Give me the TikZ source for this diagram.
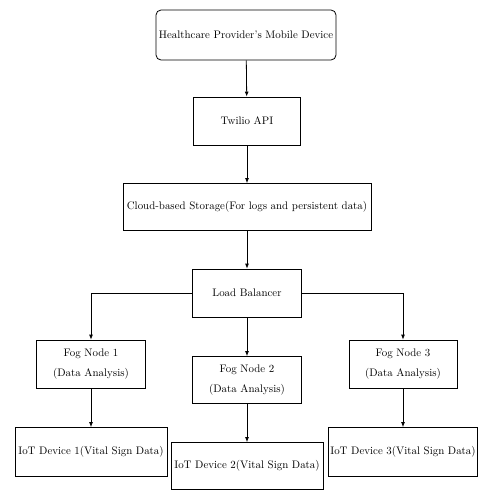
\documentclass[tikz,border=0pt]{standalone}
\usetikzlibrary{arrows.meta}
\begin{document}
\begin{tikzpicture}[x=1pt, y=-1pt,
  box/.style={draw, rectangle, thick, align=center, inner sep=2pt,
    font=\fontsize{10.9}{20}\selectfont},
  link/.style={-{Latex[length=5pt,width=4pt]}, thick}]
\useasboundingbox (0,0) rectangle (480,490);
\node[box, rounded corners=5pt, minimum width=180pt, minimum height=50pt] (mobile) at (246,35) {Healthcare Provider's Mobile Device};
\node[box, minimum width=107pt, minimum height=48pt] (twilio) at (247,121) {Twilio API};
\node[box, minimum width=248pt, minimum height=47pt] (cloud) at (247,207) {Cloud-based Storage(For logs and persistent data)};
\node[box, minimum width=109pt, minimum height=48pt] (lb) at (247,293) {Load Balancer};
\node[box, minimum width=109pt, minimum height=48pt] (fog1) at (91,364) {Fog Node 1\\(Data Analysis)};
\node[box, minimum width=109pt, minimum height=47pt] (fog2) at (247,380) {Fog Node 2\\(Data Analysis)};
\node[box, minimum width=108pt, minimum height=48pt] (fog3) at (403,364) {Fog Node 3\\(Data Analysis)};
\node[box, minimum width=152pt, minimum height=49pt] (iot1) at (91,452) {IoT Device 1(Vital Sign Data)};
\node[box, minimum width=152pt, minimum height=47pt] (iot2) at (247,466) {IoT Device 2(Vital Sign Data)};
\node[box, minimum width=148pt, minimum height=49pt] (iot3) at (403,452) {IoT Device 3(Vital Sign Data)};

\draw[link] (mobile) -- (twilio);
\draw[link] (twilio) -- (cloud);
\draw[link] (cloud) -- (lb);
\draw[link] (lb.west) -| (fog1.north);
\draw[link] (lb) -- (fog2);
\draw[link] (lb.east) -| (fog3.north);
\draw[link] (fog1) -- (iot1);
\draw[link] (fog2) -- (iot2);
\draw[link] (fog3) -- (iot3);
\end{tikzpicture}
\end{document}
